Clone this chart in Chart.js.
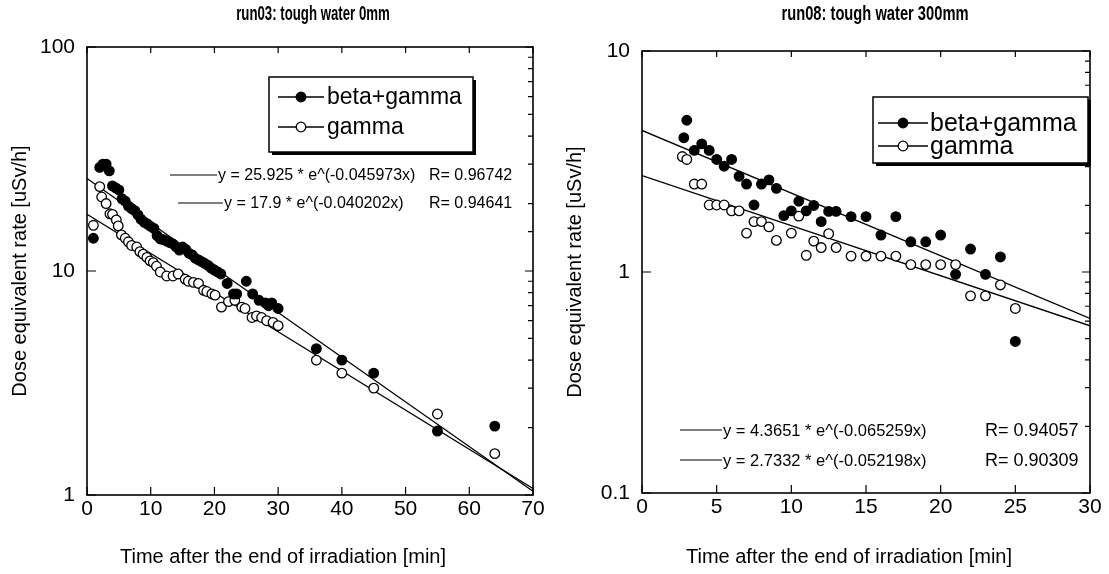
<!DOCTYPE html>
<html><head><meta charset="utf-8">
<script src="https://cdn.jsdelivr.net/npm/chart.js@4.4.1/dist/chart.umd.min.js"></script>
<style>
html,body{margin:0;padding:0;background:#fff;width:1109px;height:574px;overflow:hidden}
canvas{position:absolute;top:0}
#c1{left:0}#c2{left:555px}
</style></head><body>
<canvas id="c1" width="555" height="574"></canvas>
<canvas id="c2" width="554" height="574"></canvas>
<script>
// ---------- run03 : tough water 0mm ----------
const titleA = 'run03: tough water 0mm';
const bgAX = [1,2,2.5,3,3.5,4,4.5,5,5.5,6,6.5,7,7.5,8,8.5,9,9.5,10,10.5,11,11.5,12,12.5,13,13.5,14,14.5,15,15.5,16,16.5,17,17.5,18,18.5,19,19.5,20,20.5,21,22,23,23.5,25,26,27,28,28.5,29,30,36,40,45,55,64];
const bgAY = [14,29,30,30,28,24,23.5,23,21,20.5,19.5,19,18.6,17.8,17,16.5,16.2,15.8,15.5,14.4,13.9,13.8,13.6,13.4,13.2,12.8,12.4,12.8,12.5,12,11.8,11.4,11.2,11,10.8,10.6,10.3,10.1,9.9,9.7,8.8,7.9,7.9,9.0,7.9,7.4,7.2,7.0,7.2,6.8,4.5,4.0,3.5,1.93,2.03];
const gAX = [1,2,2.3,3,3.6,4,4.6,4.9,5.4,6,6.5,7,7.8,8.3,8.8,9.4,9.9,10.4,10.9,11.5,12.5,13.5,14.3,15.4,15.9,16.7,17.5,18.3,18.8,19.6,20.1,21.1,22.2,23.2,24.3,24.8,25.9,26.6,27.4,28.2,29.2,30,36,40,45,55,64];
const gAY = [16,23.8,21.4,20,18,17.9,16.9,15.9,14.5,14,13.5,13,12.8,12.2,11.9,11.5,11.1,10.9,10.5,9.9,9.5,9.5,9.7,9.2,9.0,8.9,8.8,8.2,8.1,7.9,7.8,6.9,7.3,7.4,6.9,6.8,6.2,6.3,6.2,6.0,5.9,5.7,4.0,3.5,3.0,2.3,1.53];
const fitAX = [0,70];
const fitABG = [25.9,1.04];
const fitAG = [17.9,1.07];
const eqA = ['y = 25.925 * e^(-0.045973x)','y = 17.9 * e^(-0.040202x)'];
const rA = ['R= 0.96742','R= 0.94641'];
const xTicksA = [0,10,20,30,40,50,60,70];
const yTicksA = [1,10,100];

// ---------- run08 : tough water 300mm ----------
const titleB = 'run08: tough water 300mm';
const bgBX = [2.8,3,3.5,4,4.5,5,5.5,6,6.5,7,7.5,8,8.5,9,9.5,10,10.5,11,11.5,12,12.5,13,14,15,16,17,18,19,20,21,22,23,24,25];
const bgBY = [4.05,4.86,3.55,3.8,3.55,3.23,3.01,3.23,2.71,2.5,2.01,2.5,2.61,2.39,1.8,1.89,2.09,1.89,2.0,1.69,1.88,1.88,1.78,1.78,1.47,1.78,1.37,1.37,1.47,0.976,1.27,0.976,1.17,0.485];
const gBX = [2.7,3,3.5,4,4.5,5,5.5,6,6.5,7,7.5,8,8.5,9,10,10.5,11,11.5,12,12.5,13,14,15,16,17,18,19,20,21,22,23,24,25];
const gBY = [3.33,3.23,2.5,2.5,2.01,2.01,2.01,1.89,1.89,1.5,1.69,1.69,1.6,1.39,1.5,1.79,1.19,1.38,1.29,1.49,1.29,1.18,1.18,1.18,1.18,1.08,1.08,1.08,1.08,0.78,0.78,0.874,0.684];
const fitBX = [0,30];
const fitBBG = [4.37,0.616];
const fitBG = [2.73,0.571];
const eqB = ['y = 4.3651 * e^(-0.065259x)','y = 2.7332 * e^(-0.052198x)'];
const rB = ['R= 0.94057','R= 0.90309'];
const xTicksB = [0,5,10,15,20,25,30];
const yTicksB = [0.1,1,10];

const seriesNames = ['beta+gamma','gamma'];
const xTitle = 'Time after the end of irradiation [min]';
const yTitle = 'Dose equivalent rate [uSv/h]';

const FAM = "'Liberation Sans', Arial, sans-serif";
Chart.defaults.font.family = FAM;
Chart.defaults.color = '#000';

const pts = (xs, ys) => xs.map((x,i)=>({x:x, y:ys[i]}));
const isPow10 = v => Math.abs(Math.log10(v) - Math.round(Math.log10(v))) < 1e-9;

const deco = {
  id: 'deco',
  afterDraw(chart, args, o) {
    const ctx = chart.ctx, a = chart.chartArea, xs = chart.scales.x, ys = chart.scales.y;
    ctx.save();
    ctx.strokeStyle = '#000';
    ctx.lineWidth = 1.2;
    ctx.beginPath();
    xs.ticks.forEach(t => {
      const px = xs.getPixelForValue(t.value);
      ctx.moveTo(px, a.bottom); ctx.lineTo(px, a.bottom - 8);
      ctx.moveTo(px, a.top); ctx.lineTo(px, a.top + 6);
    });
    ys.ticks.forEach(t => {
      const py = ys.getPixelForValue(t.value);
      if (isPow10(t.value)) {
        ctx.moveTo(a.left, py); ctx.lineTo(a.left + 9, py);
        ctx.moveTo(a.right, py); ctx.lineTo(a.right - 8, py);
      } else {
        ctx.moveTo(a.right, py); ctx.lineTo(a.right - 5, py);
      }
    });
    ctx.stroke();
    ctx.lineWidth = 1.6;
    ctx.strokeRect(a.left, a.top, a.right - a.left, a.bottom - a.top);

    // chart title (condensed bold)
    ctx.fillStyle = '#000';
    ctx.textAlign = 'center';
    ctx.textBaseline = 'middle';
    ctx.save();
    ctx.translate(o.titleX, o.titleY);
    ctx.scale(o.titleScale, 1);
    ctx.font = "bold 21px " + FAM;
    ctx.fillText(o.title, 0, 0);
    ctx.restore();

    // x axis title
    ctx.font = "20px " + FAM;
    ctx.fillText(xTitle, o.xTitleX, o.xTitleY);

    // legend box
    const L = o.legend;
    ctx.fillStyle = '#000';
    ctx.fillRect(L.x + 3, L.y + 3, L.w, L.h);
    ctx.fillStyle = '#fff';
    ctx.fillRect(L.x, L.y, L.w, L.h);
    ctx.lineWidth = 1.5;
    ctx.strokeRect(L.x, L.y, L.w, L.h);
    ctx.font = L.font;
    ctx.textAlign = 'left';
    L.rows.forEach((r, i) => {
      const ds = chart.data.datasets[i];
      ctx.lineWidth = 1.3;
      ctx.beginPath(); ctx.moveTo(L.lx1, r); ctx.lineTo(L.lx2, r); ctx.stroke();
      ctx.beginPath(); ctx.arc((L.lx1 + L.lx2) / 2, r, 4.8, 0, Math.PI * 2);
      ctx.fillStyle = ds.pointBackgroundColor; ctx.fill(); ctx.stroke();
      ctx.fillStyle = '#000';
      ctx.fillText(ds.label, L.tx, r + 1);
    });

    // equations
    o.eqs.forEach(e => {
      ctx.lineWidth = 1.2;
      ctx.beginPath(); ctx.moveTo(e.x1, e.y); ctx.lineTo(e.x2, e.y); ctx.stroke();
      ctx.fillStyle = '#000';
      ctx.font = o.eqFont;
      ctx.fillText(e.text, e.x2 + 1, e.y + 1);
      ctx.font = o.rFont;
      ctx.fillText(e.r, e.rx, e.y + 1);
    });
    ctx.restore();
  }
};

function makeChart(id, cfg) {
  return new Chart(document.getElementById(id), {
    type: 'scatter',
    data: {
      datasets: [
        {label: seriesNames[0], data: pts(cfg.bgX, cfg.bgY), pointRadius: 4.8, pointBackgroundColor: '#000', pointBorderColor: '#000', borderWidth: 1.3, showLine: false},
        {label: seriesNames[1], data: pts(cfg.gX, cfg.gY), pointRadius: 4.8, pointBackgroundColor: '#fff', pointBorderColor: '#000', borderWidth: 1.3, showLine: false},
        {label: 'fit1', data: pts(cfg.fitX, cfg.fit1), showLine: true, pointRadius: 0, borderColor: '#000', borderWidth: 1.3},
        {label: 'fit2', data: pts(cfg.fitX, cfg.fit2), showLine: true, pointRadius: 0, borderColor: '#000', borderWidth: 1.3}
      ]
    },
    options: {
      responsive: false, animation: false, events: [],
      devicePixelRatio: 1,
      layout: {padding: {left: 0, right: cfg.padRight, top: cfg.padTop, bottom: 0}},
      plugins: {
        legend: {display: false},
        tooltip: {enabled: false},
        title: {display: false},
        deco: cfg.deco
      },
      scales: {
        x: {type: 'linear', min: cfg.xTicks[0], max: cfg.xTicks[cfg.xTicks.length - 1],
          afterBuildTicks: s => { s.ticks = cfg.xTicks.map(v => ({value: v})); },
          afterFit: s => { s.height = cfg.xH; },
          grid: {display: false, drawTicks: false}, border: {display: false},
          ticks: {font: {size: 21}, padding: 2, maxRotation: 0, autoSkip: false},
          title: {display: false}
        },
        y: {type: 'logarithmic', min: cfg.yTicks[0], max: cfg.yTicks[cfg.yTicks.length - 1],
          afterFit: s => { s.width = 87; },
          grid: {display: false, drawTicks: false}, border: {display: false},
          ticks: {font: {size: 21}, padding: 12, autoSkip: false,
            callback: v => cfg.yTicks.some(t => Math.abs(t - v) < 1e-9) ? String(v) : ''},
          title: {display: true, text: yTitle, font: {size: 20}, padding: {top: 8, bottom: 0}}
        }
      }
    },
    plugins: [deco]
  });
}

makeChart('c1', {
  bgX: bgAX, bgY: bgAY, gX: gAX, gY: gAY, fitX: fitAX, fit1: fitABG, fit2: fitAG,
  xTicks: xTicksA, yTicks: yTicksA, padRight: 22, padTop: 47, xH: 79,
  deco: {
    title: titleA, titleX: 313, titleY: 14, titleScale: 0.63,
    xTitleX: 283, xTitleY: 557,
    legend: {x: 269, y: 77, w: 204, h: 75, lx1: 278, lx2: 324, tx: 327, rows: [97, 127], font: "23px " + FAM},
    eqFont: "16px " + FAM, rFont: "16px " + FAM,
    eqs: [
      {x1: 170, x2: 217, y: 175, text: eqA[0], r: rA[0], rx: 429},
      {x1: 178, x2: 223, y: 203, text: eqA[1], r: rA[1], rx: 429}
    ]
  }
});

makeChart('c2', {
  bgX: bgBX, bgY: bgBY, gX: gBX, gY: gBY, fitX: fitBX, fit1: fitBBG, fit2: fitBG,
  xTicks: xTicksB, yTicks: yTicksB, padRight: 19, padTop: 51, xH: 81,
  deco: {
    title: titleB, titleX: 320, titleY: 14, titleScale: 0.7,
    xTitleX: 294, xTitleY: 557,
    legend: {x: 318, y: 97, w: 215, h: 66, lx1: 323, lx2: 373, tx: 375, rows: [123, 146], font: "25px " + FAM},
    eqFont: "16.5px " + FAM, rFont: "18px " + FAM,
    eqs: [
      {x1: 125, x2: 167, y: 430, text: eqB[0], r: rB[0], rx: 430},
      {x1: 125, x2: 167, y: 460, text: eqB[1], r: rB[1], rx: 430}
    ]
  }
});
</script>
</body></html>
